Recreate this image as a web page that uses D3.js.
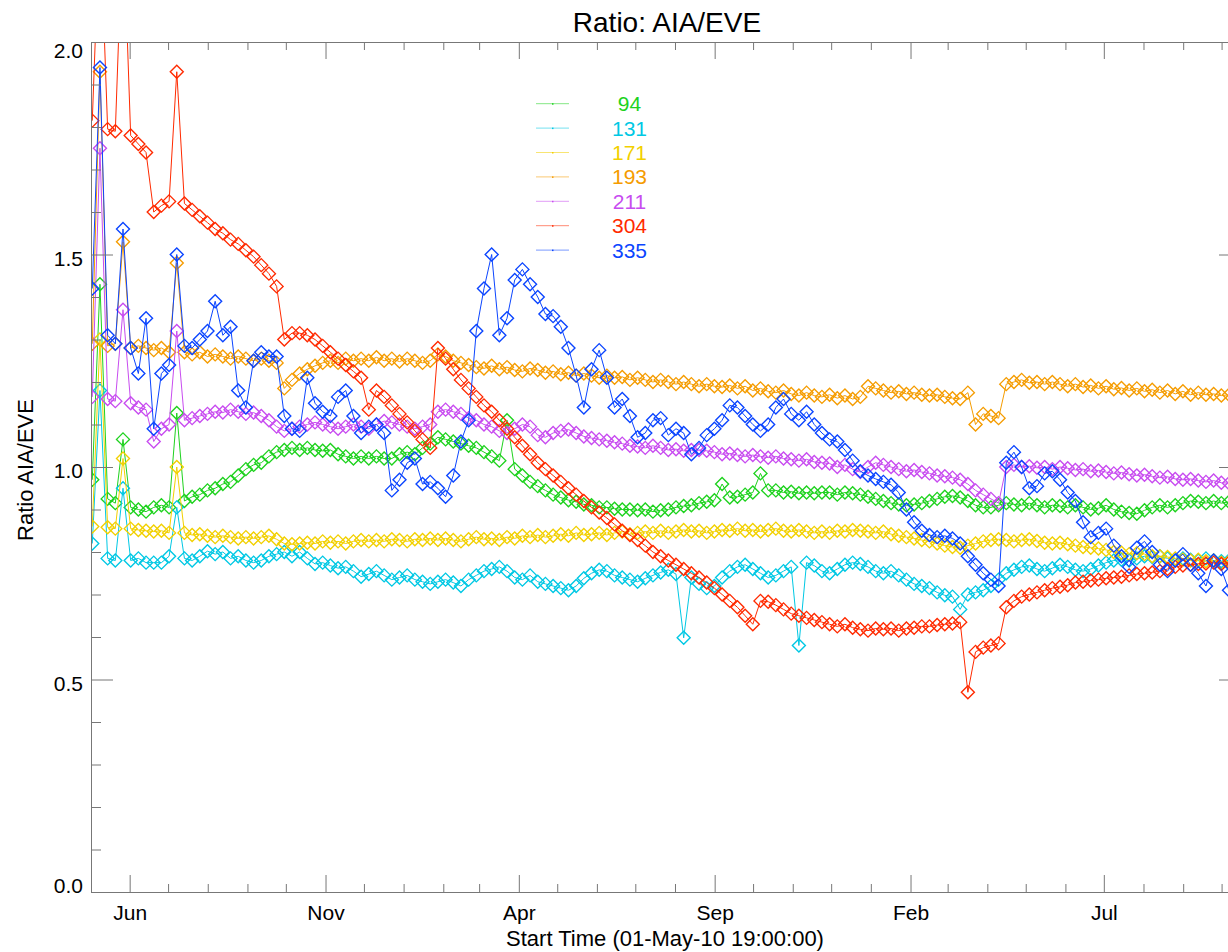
<!DOCTYPE html>
<html>
<head>
<meta charset="utf-8">
<title>Ratio: AIA/EVE</title>
<script src="https://cdn.jsdelivr.net/npm/d3@7"></script>
<style>
body { margin: 0; background: #fff; }
svg { display: block; font-family: "Liberation Sans", Arial, Helvetica, sans-serif; }
</style>
</head>
<body>
<div id="chart"></div>
<script>
// time axis: samples every 6 days from the start time
const startTime = new Date("2010-05-01T19:00:00Z")
const endTime = new Date("2012-10-16T04:00:00Z")
const firstSampleDay = 1
const sampleStepDays = 6

const majorTickDates = ["2010-06-01", "2010-11-01", "2011-04-01", "2011-09-01", "2012-02-01", "2012-07-01"]
const yTicks = [0.0, 0.5, 1.0, 1.5, 2.0]

const channels = ["94", "131", "171", "193", "211", "304", "335"]
const colors = ["#1ed21e", "#00c8e4", "#f2d000", "#f59c00", "#c84cf0", "#ff2a00", "#0b45ff"]

const ratio94 = [
0.97, 1.43, 0.925, 0.915, 1.065, 0.905, 0.9, 0.895, 0.905, 0.91,
0.905, 1.127, 0.92, 0.93, 0.935, 0.945, 0.95, 0.96, 0.965, 0.98,
0.995, 1.005, 1.01, 1.025, 1.035, 1.04, 1.045, 1.04, 1.045, 1.04,
1.038, 1.04, 1.03, 1.025, 1.02, 1.025, 1.02, 1.025, 1.02, 1.02,
1.03, 1.035, 1.03, 1.045, 1.055, 1.07, 1.065, 1.06, 1.055, 1.05,
1.045, 1.035, 1.025, 1.015, 1.11, 0.995, 0.98, 0.965, 0.955, 0.945,
0.935, 0.928, 0.922, 0.918, 0.912, 0.91, 0.905, 0.905, 0.902, 0.9,
0.9, 0.898, 0.9, 0.895, 0.898, 0.9, 0.905, 0.908, 0.91, 0.915,
0.918, 0.922, 0.96, 0.928, 0.93, 0.935, 0.94, 0.985, 0.945, 0.945,
0.94, 0.942, 0.938, 0.94, 0.938, 0.94, 0.94, 0.935, 0.94, 0.938,
0.935, 0.93, 0.925, 0.92, 0.915, 0.912, 0.91, 0.912, 0.915, 0.92,
0.925, 0.93, 0.932, 0.928, 0.92, 0.91, 0.905, 0.905, 0.91, 0.915,
0.912, 0.91, 0.915, 0.91, 0.905, 0.91, 0.908, 0.905, 0.91, 0.905,
0.9, 0.903, 0.91, 0.9, 0.895, 0.892, 0.89, 0.898, 0.905, 0.91,
0.905, 0.91, 0.915, 0.92, 0.918, 0.915, 0.92, 0.915, 0.918]

const ratio131 = [
0.82, 1.18, 0.785, 0.78, 0.95, 0.78, 0.785, 0.775, 0.775, 0.775,
0.79, 0.905, 0.785, 0.78, 0.79, 0.802, 0.795, 0.8, 0.785, 0.79,
0.78, 0.775, 0.78, 0.79, 0.795, 0.80, 0.79, 0.80, 0.785, 0.772,
0.775, 0.768, 0.762, 0.765, 0.755, 0.742, 0.748, 0.755, 0.745, 0.735,
0.74, 0.745, 0.735, 0.73, 0.725, 0.73, 0.735, 0.728, 0.72, 0.735,
0.745, 0.755, 0.76, 0.765, 0.755, 0.74, 0.735, 0.745, 0.73, 0.725,
0.72, 0.715, 0.71, 0.72, 0.738, 0.75, 0.758, 0.755, 0.745, 0.74,
0.735, 0.73, 0.738, 0.745, 0.752, 0.758, 0.748, 0.598, 0.74, 0.725,
0.715, 0.72, 0.74, 0.755, 0.765, 0.77, 0.76, 0.75, 0.74, 0.745,
0.755, 0.765, 0.58, 0.775, 0.768, 0.755, 0.75, 0.76, 0.77, 0.775,
0.772, 0.765, 0.755, 0.75, 0.755, 0.745, 0.735, 0.725, 0.72, 0.715,
0.705, 0.698, 0.695, 0.665, 0.7, 0.705, 0.71, 0.72, 0.735, 0.75,
0.758, 0.765, 0.768, 0.76, 0.755, 0.762, 0.77, 0.765, 0.758, 0.755,
0.76, 0.768, 0.775, 0.78, 0.782, 0.78, 0.785, 0.79, 0.788, 0.79,
0.785, 0.78, 0.785, 0.782, 0.78, 0.785, 0.78, 0.778, 0.78]

const ratio171 = [
0.86, 1.3, 0.858, 0.855, 1.02, 0.855, 0.852, 0.85, 0.848, 0.85,
0.845, 1.0, 0.845, 0.84, 0.842, 0.838, 0.835, 0.838, 0.835, 0.832,
0.835, 0.832, 0.835, 0.838, 0.83, 0.82, 0.818, 0.82, 0.822, 0.82,
0.825, 0.822, 0.825, 0.82, 0.825, 0.828, 0.825, 0.828, 0.825, 0.83,
0.828, 0.825, 0.83, 0.828, 0.832, 0.828, 0.832, 0.828, 0.825, 0.83,
0.835, 0.83, 0.832, 0.828, 0.835, 0.832, 0.838, 0.835, 0.84, 0.835,
0.838, 0.842, 0.838, 0.845, 0.84, 0.842, 0.845, 0.84, 0.845, 0.848,
0.842, 0.845, 0.848, 0.845, 0.85, 0.845, 0.848, 0.852, 0.848, 0.85,
0.845, 0.848, 0.852, 0.85, 0.855, 0.85, 0.852, 0.848, 0.852, 0.855,
0.85, 0.848, 0.852, 0.848, 0.845, 0.848, 0.845, 0.85, 0.848, 0.852,
0.85, 0.848, 0.845, 0.848, 0.842, 0.838, 0.835, 0.832, 0.828, 0.825,
0.82, 0.815, 0.812, 0.81, 0.815, 0.82, 0.825, 0.828, 0.83, 0.828,
0.825, 0.828, 0.83, 0.826, 0.822, 0.82, 0.822, 0.818, 0.815, 0.812,
0.81, 0.808, 0.805, 0.8, 0.798, 0.795, 0.797, 0.795, 0.79, 0.79,
0.788, 0.785, 0.782, 0.78, 0.782, 0.778, 0.78, 0.775, 0.777]

const ratio193 = [
1.29, 1.93, 1.285, 1.29, 1.53, 1.28, 1.285, 1.28, 1.275, 1.28,
1.27, 1.48, 1.27, 1.265, 1.27, 1.26, 1.265, 1.26, 1.255, 1.26,
1.255, 1.25, 1.255, 1.25, 1.245, 1.185, 1.205, 1.22, 1.23, 1.238,
1.245, 1.25, 1.245, 1.255, 1.25, 1.255, 1.25, 1.258, 1.25, 1.255,
1.248, 1.255, 1.25, 1.245, 1.25, 1.265, 1.26, 1.25, 1.245, 1.24,
1.235, 1.232, 1.238, 1.23, 1.235, 1.228, 1.225, 1.232, 1.228, 1.222,
1.225, 1.218, 1.222, 1.215, 1.22, 1.215, 1.21, 1.215, 1.21, 1.212,
1.205, 1.21, 1.205, 1.2, 1.205, 1.2, 1.195, 1.2, 1.195, 1.19,
1.195, 1.19, 1.188, 1.192, 1.185, 1.19, 1.18, 1.185, 1.178, 1.175,
1.18, 1.172, 1.168, 1.175, 1.168, 1.165, 1.17, 1.162, 1.168, 1.16,
1.165, 1.19, 1.185, 1.18, 1.175, 1.178, 1.172, 1.175, 1.17, 1.168,
1.17, 1.165, 1.162, 1.16, 1.175, 1.10, 1.125, 1.12, 1.115, 1.195,
1.2, 1.205, 1.198, 1.2, 1.195, 1.2, 1.195, 1.19, 1.195, 1.188,
1.192, 1.185, 1.19, 1.183, 1.186, 1.18, 1.185, 1.178, 1.182, 1.175,
1.18, 1.172, 1.178, 1.17, 1.175, 1.17, 1.172, 1.168, 1.17]

const ratio211 = [
1.165, 1.75, 1.16, 1.155, 1.37, 1.15, 1.14, 1.135, 1.06, 1.09,
1.10, 1.32, 1.11, 1.115, 1.12, 1.125, 1.13, 1.128, 1.135, 1.13,
1.125, 1.128, 1.12, 1.11, 1.095, 1.085, 1.09, 1.095, 1.1, 1.105,
1.1, 1.095, 1.09, 1.095, 1.1, 1.095, 1.09, 1.1, 1.108, 1.105,
1.1, 1.095, 1.09, 1.095, 1.10, 1.13, 1.135, 1.13, 1.125, 1.115,
1.11, 1.1, 1.095, 1.085, 1.08, 1.09, 1.1, 1.095, 1.075, 1.07,
1.08, 1.085, 1.088, 1.08, 1.072, 1.068, 1.065, 1.062, 1.058, 1.055,
1.05, 1.048, 1.045, 1.05, 1.045, 1.04, 1.042, 1.038, 1.04, 1.04,
1.038, 1.035, 1.03, 1.032, 1.028, 1.025, 1.028, 1.025, 1.022, 1.025,
1.02, 1.018, 1.015, 1.018, 1.012, 1.01, 1.008, 1.0, 1.005, 0.995,
0.988, 1.0, 1.01, 1.005, 1.0, 0.995, 0.99, 0.993, 0.988, 0.985,
0.98, 0.978, 0.975, 0.97, 0.96, 0.945, 0.935, 0.925, 0.915, 1.0,
1.005, 1.0, 1.002, 0.998, 1.0, 0.995, 1.0, 0.997, 0.993, 0.995,
0.99, 0.992, 0.988, 0.985, 0.987, 0.983, 0.98, 0.982, 0.978, 0.975,
0.977, 0.972, 0.97, 0.972, 0.968, 0.965, 0.968, 0.963, 0.962]

const ratio304 = [
1.815, 2.3, 1.795, 1.79, 2.3, 1.78, 1.76, 1.74, 1.60, 1.615,
1.625, 1.93, 1.62, 1.605, 1.59, 1.575, 1.56, 1.55, 1.535, 1.525,
1.51, 1.495, 1.475, 1.455, 1.425, 1.30, 1.315, 1.315, 1.31, 1.30,
1.285, 1.27, 1.255, 1.24, 1.225, 1.21, 1.135, 1.18, 1.165, 1.145,
1.125, 1.105, 1.085, 1.065, 1.045, 1.28, 1.255, 1.23, 1.205, 1.185,
1.165, 1.145, 1.13, 1.11, 1.09, 1.07, 1.05, 1.03, 1.01, 0.995,
0.98, 0.965, 0.95, 0.935, 0.92, 0.905, 0.893, 0.88, 0.865, 0.85,
0.84, 0.828, 0.815, 0.80, 0.79, 0.78, 0.77, 0.76, 0.75, 0.74,
0.728, 0.715, 0.70, 0.685, 0.67, 0.65, 0.63, 0.685, 0.683, 0.675,
0.665, 0.655, 0.65, 0.645, 0.64, 0.635, 0.63, 0.625, 0.63, 0.622,
0.618, 0.615, 0.62, 0.618, 0.62, 0.615, 0.62, 0.622, 0.625, 0.625,
0.628, 0.63, 0.632, 0.635, 0.47, 0.565, 0.575, 0.58, 0.585, 0.67,
0.685, 0.695, 0.70, 0.705, 0.71, 0.715, 0.718, 0.722, 0.728, 0.73,
0.733, 0.735, 0.738, 0.74, 0.742, 0.745, 0.748, 0.75, 0.752, 0.755,
0.76, 0.765, 0.768, 0.77, 0.772, 0.773, 0.775, 0.772, 0.775]

const ratio335 = [
1.42, 1.94, 1.31, 1.29, 1.56, 1.28, 1.22, 1.35, 1.09, 1.22,
1.24, 1.50, 1.285, 1.28, 1.30, 1.32, 1.39, 1.31, 1.33, 1.18,
1.14, 1.25, 1.27, 1.26, 1.26, 1.12, 1.09, 1.085, 1.21, 1.15,
1.13, 1.12, 1.165, 1.18, 1.12, 1.08, 1.095, 1.10, 1.08, 0.945,
0.97, 1.01, 1.02, 0.96, 0.965, 0.95, 0.93, 0.98, 1.06, 1.11,
1.32, 1.42, 1.50, 1.31, 1.35, 1.44, 1.465, 1.43, 1.40, 1.36,
1.355, 1.33, 1.28, 1.215, 1.14, 1.23, 1.275, 1.21, 1.14, 1.16,
1.12, 1.07, 1.08, 1.11, 1.115, 1.075, 1.09, 1.08, 1.03, 1.045,
1.075, 1.09, 1.11, 1.145, 1.14, 1.12, 1.10, 1.085, 1.10, 1.14,
1.16, 1.125, 1.11, 1.13, 1.10, 1.08, 1.065, 1.06, 1.04, 1.015,
0.99, 0.98, 0.972, 0.965, 0.958, 0.94, 0.90, 0.87, 0.85, 0.84,
0.835, 0.838, 0.832, 0.82, 0.79, 0.77, 0.75, 0.735, 0.72, 1.01,
1.035, 1.0, 0.95, 0.955, 0.985, 0.99, 0.97, 0.94, 0.92, 0.87,
0.835, 0.845, 0.855, 0.815, 0.79, 0.765, 0.81, 0.825, 0.80, 0.77,
0.755, 0.78, 0.795, 0.77, 0.75, 0.72, 0.78, 0.76, 0.71]

const seriesValues = [ratio94, ratio131, ratio171, ratio193, ratio211, ratio304, ratio335]

const sampleTimes = ratio94.map((_, i) => d3.utcHour.offset(startTime, 24 * (firstSampleDay + sampleStepDays * i)))
const majorDates = majorTickDates.map(d => new Date(d + "T00:00:00Z"))
const minorDates = d3.utcMonth.range(startTime, endTime).filter(d => !majorDates.some(m => +m === +d))
const yMinor = d3.range(1, 20).filter(v => v % 5 !== 0).map(v => v / 10)

const width = 1228
const height = 952
const plotLeft = 91, plotRight = 1241, plotTop = 42, plotBottom = 892

const x = d3.scaleUtc().domain([startTime, endTime]).range([plotLeft, plotRight])
const y = d3.scaleLinear().domain([0, 2]).range([plotBottom, plotTop])

const svg = d3.select("#chart").append("svg")
  .attr("width", width)
  .attr("height", height)

svg.append("rect").attr("width", width).attr("height", height).attr("fill", "#fff")

svg.append("defs").append("clipPath").attr("id", "plotclip")
  .append("rect")
  .attr("x", plotLeft).attr("y", plotTop)
  .attr("width", plotRight - plotLeft).attr("height", plotBottom - plotTop)

// IDL style square diamond (psym=4)
const diamond = {
  draw(ctx, size) {
    const r = Math.sqrt(size) / 2
    ctx.moveTo(0, -r)
    ctx.lineTo(r, 0)
    ctx.lineTo(0, r)
    ctx.lineTo(-r, 0)
    ctx.closePath()
  }
}
const marker = d3.symbol(diamond, 169)

const line = d3.line()
  .x((d, i) => x(sampleTimes[i]))
  .y(d => y(d))

const plot = svg.append("g").attr("clip-path", "url(#plotclip)")

seriesValues.forEach((vals, k) => {
  const g = plot.append("g")
  g.append("path")
    .datum(vals)
    .attr("d", line)
    .attr("fill", "none")
    .attr("stroke", colors[k])
    .attr("stroke-width", 1)
  g.selectAll("path.m")
    .data(vals)
    .enter()
    .append("path")
    .attr("class", "m")
    .attr("d", marker)
    .attr("transform", (d, i) => `translate(${x(sampleTimes[i])},${y(d)})`)
    .attr("fill", "none")
    .attr("stroke", colors[k])
    .attr("stroke-width", 1.4)
})

/* axes */
function styleAxis(g) {
  g.attr("font-family", null).attr("font-size", 21)
  g.selectAll(".domain").attr("stroke", "#777")
  g.selectAll(".tick line").attr("stroke", "#777")
  g.selectAll(".tick text").attr("fill", "#000")
}

svg.append("g")
  .attr("transform", `translate(0,${plotBottom})`)
  .call(d3.axisBottom(x).tickValues(minorDates).tickFormat("").tickSizeInner(-8).tickSizeOuter(0))
  .call(styleAxis)
svg.append("g")
  .attr("transform", `translate(0,${plotBottom})`)
  .call(d3.axisBottom(x).tickValues(majorDates).tickFormat(d3.utcFormat("%b")).tickSizeInner(-17).tickSizeOuter(0).tickPadding(13))
  .call(styleAxis)

svg.append("g")
  .attr("transform", `translate(0,${plotTop})`)
  .call(d3.axisTop(x).tickValues(minorDates).tickFormat("").tickSizeInner(-8).tickSizeOuter(0))
  .call(styleAxis)
svg.append("g")
  .attr("transform", `translate(0,${plotTop})`)
  .call(d3.axisTop(x).tickValues(majorDates).tickFormat("").tickSizeInner(-17).tickSizeOuter(0))
  .call(styleAxis)

svg.append("g")
  .attr("transform", `translate(${plotLeft},0)`)
  .call(d3.axisLeft(y).tickValues(yMinor).tickFormat("").tickSizeInner(-10).tickSizeOuter(0))
  .call(styleAxis)
const yAxis = svg.append("g")
  .attr("transform", `translate(${plotLeft},0)`)
  .call(d3.axisLeft(y).tickValues(yTicks).tickFormat(d3.format(".1f")).tickSizeInner(-22).tickSizeOuter(0).tickPadding(8))
  .call(styleAxis)
yAxis.selectAll(".tick text")
  .attr("dy", d => d === 2 ? "0.72em" : d === 0 ? "0em" : "0.5em")

svg.append("g")
  .attr("transform", `translate(${plotRight},0)`)
  .call(d3.axisRight(y).tickValues(yMinor).tickFormat("").tickSizeInner(-10).tickSizeOuter(0))
  .call(styleAxis)
svg.append("g")
  .attr("transform", `translate(${plotRight},0)`)
  .call(d3.axisRight(y).tickValues(yTicks).tickFormat("").tickSizeInner(-22).tickSizeOuter(0))
  .call(styleAxis)

/* titles */
svg.append("text")
  .attr("x", 667).attr("y", 32)
  .attr("text-anchor", "middle")
  .attr("font-size", 28)
  .text("Ratio: AIA/EVE")

svg.append("text")
  .attr("transform", "translate(33,470) rotate(-90)")
  .attr("text-anchor", "middle")
  .attr("font-size", 22)
  .text("Ratio AIA/EVE")

svg.append("text")
  .attr("x", 665).attr("y", 946)
  .attr("text-anchor", "middle")
  .attr("font-size", 22)
  .text("Start Time (01-May-10 19:00:00)")

/* legend */
const legend = svg.append("g")
  .selectAll("g")
  .data(channels)
  .enter()
  .append("g")
  .attr("transform", (c, i) => `translate(0,${103.7 + i * 24.4})`)

legend.append("line")
  .attr("x1", 536).attr("x2", 569)
  .attr("stroke", (c, i) => colors[i])
  .attr("stroke-opacity", 0.55)
  .attr("stroke-width", 1)
legend.append("rect")
  .attr("x", 552).attr("y", -0.5)
  .attr("width", 1.5).attr("height", 1.5)
  .attr("fill", (c, i) => colors[i])
legend.append("text")
  .attr("x", 629.5).attr("y", 7.5)
  .attr("text-anchor", "middle")
  .attr("font-size", 21)
  .attr("fill", (c, i) => colors[i])
  .text(c => c)
</script>
</body>
</html>
